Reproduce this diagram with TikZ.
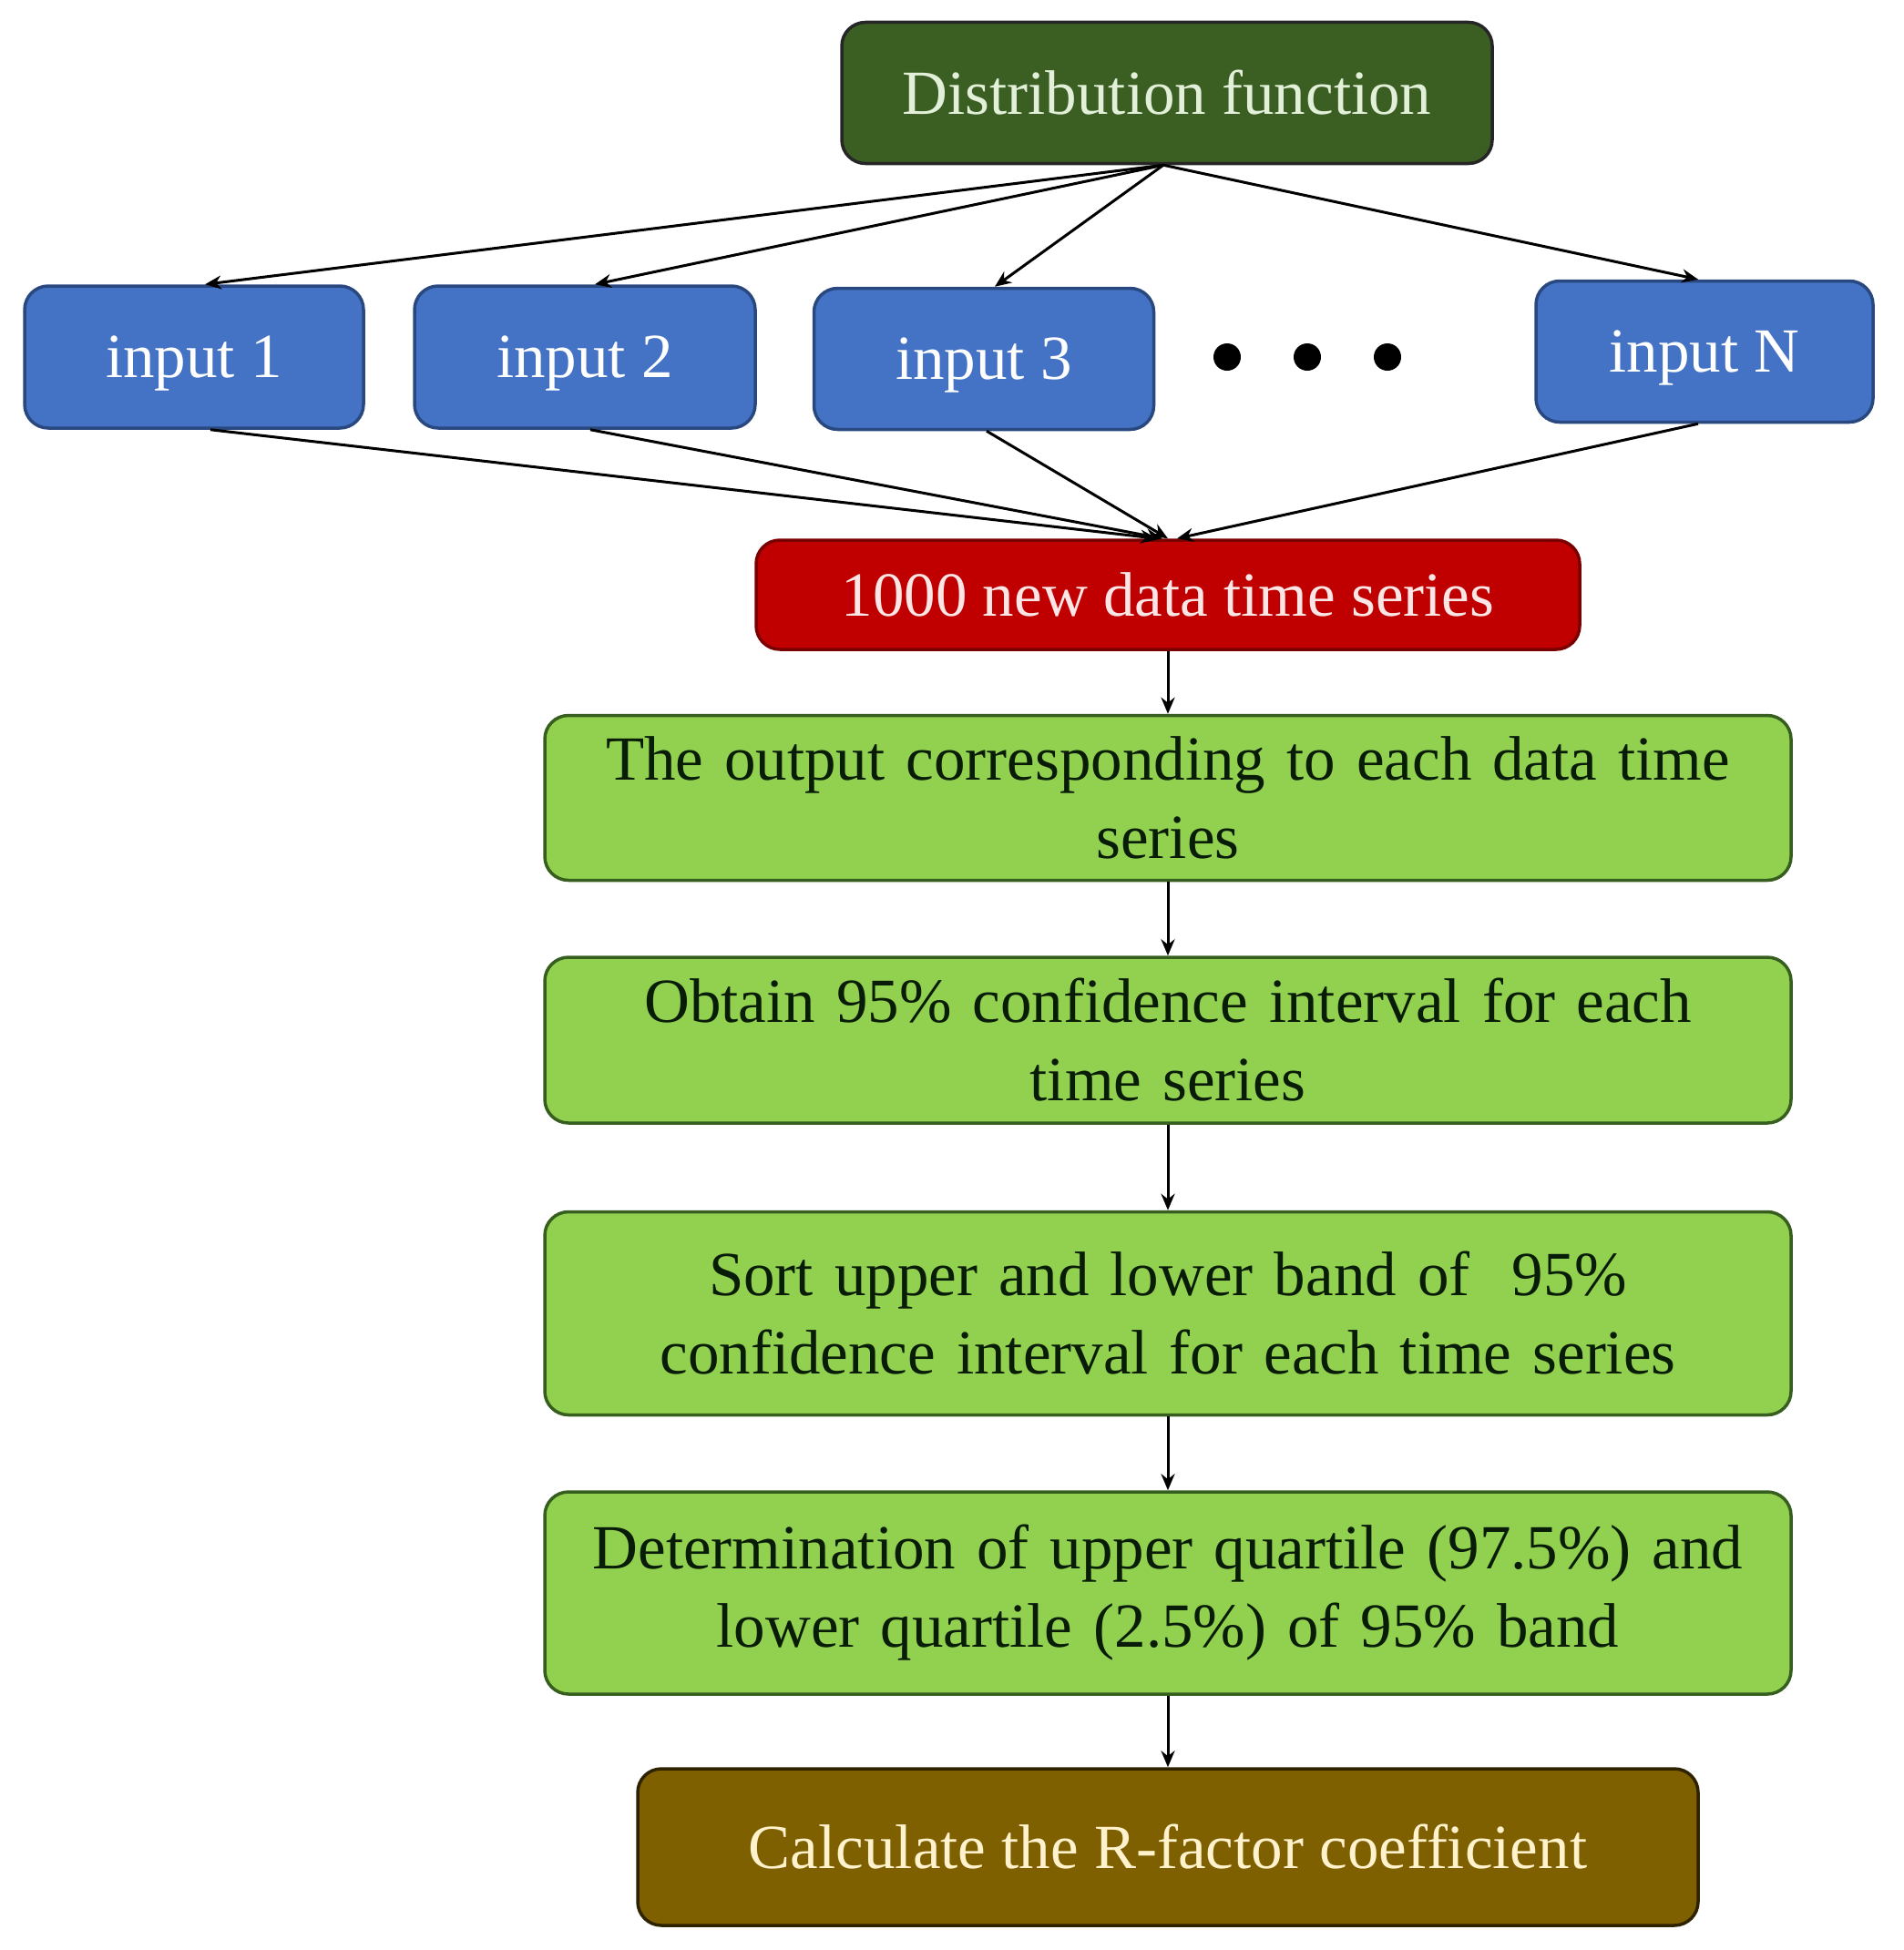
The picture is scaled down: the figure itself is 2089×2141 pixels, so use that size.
\documentclass[tikz,border=0pt]{standalone}
\usepackage{fontspec}
\setmainfont{Liberation Serif}
\usetikzlibrary{arrows.meta,calc}
\definecolor{dgreen}{HTML}{3B5E23}
\definecolor{dgreentext}{HTML}{E2F0D9}
\definecolor{iblue}{HTML}{4472C4}
\definecolor{iblueb}{HTML}{2A4880}
\definecolor{rred}{HTML}{C00000}
\definecolor{rredb}{HTML}{7A0000}
\definecolor{rredtext}{HTML}{FBE5E5}
\definecolor{lgreen}{HTML}{92D050}
\definecolor{lgreenb}{HTML}{365E1E}
\definecolor{lgreentext}{HTML}{081C08}
\definecolor{bbrown}{HTML}{7F6000}
\definecolor{bbrownb}{HTML}{2E2300}
\definecolor{bbrowntext}{HTML}{FFF2CC}
\tikzset{
  box/.style={rounded corners=26pt, line width=3.5pt, inner sep=0pt, align=center,
    font=\fontsize{69}{86}\selectfont},
  distbox/.style={box, fill=dgreen, draw=black!85, text=dgreentext, minimum width=714pt, minimum height=155pt},
  inbox/.style={box, fill=iblue, draw=iblueb, text=white, minimum width=372pt, minimum height=156pt, text depth=0pt},
  redbox/.style={box, fill=rred, draw=rredb, text=rredtext, minimum width=904pt, minimum height=120pt},
  greenbox/.style={box, fill=lgreen, draw=lgreenb, text=lgreentext, minimum width=1368pt, text width=1360pt},
  brownbox/.style={box, fill=bbrown, draw=bbrownb, text=bbrowntext, minimum width=1164pt, minimum height=172pt},
  conn/.style={line width=3pt, draw=black, -{Stealth[length=18pt,width=15pt]}},
  dotc/.style={circle, fill=black, inner sep=0pt, minimum width=26pt, minimum height=30pt}
}
\begin{document}
\begin{tikzpicture}[x=1pt,y=-1pt]
\useasboundingbox[fill=white] (0,0) rectangle (2089,2141);
\node[distbox] (dist) at (1281,102) {Distribution function};
\node[inbox] (in1) at (213,392) {input 1};
\node[inbox, minimum width=374pt] (in2) at (642,392) {input 2};
\node[inbox, minimum width=373pt, minimum height=155pt] (in3) at (1080,394) {input 3};
\node[inbox, minimum width=370pt, minimum height=155pt] (inN) at (1871,386) {input N};
\node[dotc] (d1) at (1347,392) {};
\node[dotc] (d2) at (1435,392) {};
\node[dotc] (d3) at (1523,392) {};
\node[redbox] (red) at (1282,653) {1000 new data time series};
\node[greenbox, minimum height=181pt] (g1) at (1282,876) {The output corresponding to each data time\\series};
\node[greenbox, minimum height=182pt] (g2) at (1282,1142) {Obtain 95\% confidence interval for each\\time series};
\node[greenbox, minimum height=223pt] (g3) at (1282,1442) {Sort upper and lower band of \ 95\%\\confidence interval for each time series};
\node[greenbox, minimum height=222pt] (g4) at (1282,1749) {Determination of upper quartile (97.5\%) and\\lower quartile (2.5\%) of 95\% band};
\node[brownbox] (br) at (1282,2028) {Calculate the R-factor coefficient};
% fan out
\coordinate (ds) at ($(dist.south)+(-4,0)$);
\draw[conn] (ds) -- ($(in1.north)+(12,0)$);
\draw[conn] (ds) -- ($(in2.north)+(11,0)$);
\draw[conn] (ds) -- ($(in3.north)+(12,0)$);
\draw[conn] (ds) -- ($(inN.north)+(-7,0)$);
% fan in
\draw[conn] ($(in1.south)+(18,0)$) -- ($(red.north)+(-12,0)$);
\draw[conn] ($(in2.south)+(6,0)$) -- ($(red.north)+(-6,0)$);
\draw[conn] ($(in3.south)+(3,0)$) -- ($(red.north)+(0,0)$);
\draw[conn] ($(inN.south)+(-7,0)$) -- ($(red.north)+(10,0)$);
% chain
\draw[conn] (red.south) -- (g1.north);
\draw[conn] (g1.south) -- (g2.north);
\draw[conn] (g2.south) -- (g3.north);
\draw[conn] (g3.south) -- (g4.north);
\draw[conn] (g4.south) -- (br.north);
\end{tikzpicture}
\end{document}
